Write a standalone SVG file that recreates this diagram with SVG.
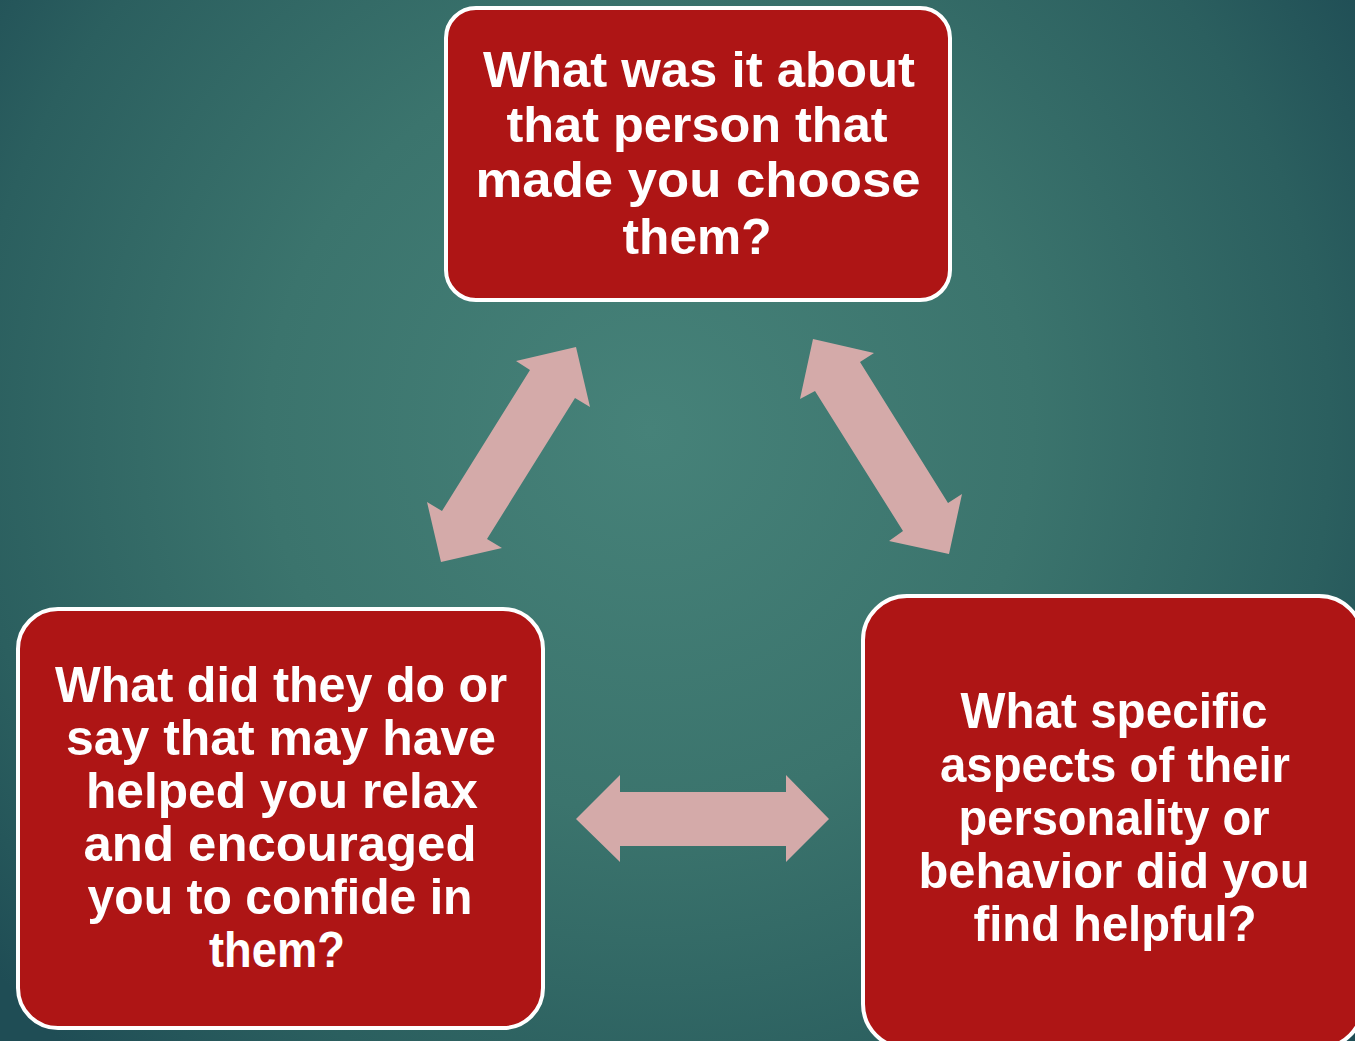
<svg xmlns="http://www.w3.org/2000/svg" width="1355" height="1041" viewBox="0 0 1355 1041">
<defs>
<radialGradient id="bg" gradientUnits="userSpaceOnUse" cx="650" cy="430" r="850">
<stop offset="0" stop-color="#468279"/>
<stop offset="0.45" stop-color="#3b746d"/>
<stop offset="0.8" stop-color="#2b5f5f"/>
<stop offset="1" stop-color="#1f4d55"/>
</radialGradient>
<style>
.box{fill:#ae1515;stroke:#ffffff;stroke-width:4}
.lbl{font-family:"Liberation Sans",Arial,sans-serif;font-weight:bold;font-size:50px;fill:#ffffff;text-anchor:middle}
.arr{fill:#d4aaa9;stroke:none}
</style>
</defs>
<rect x="0" y="0" width="1355" height="1041" fill="url(#bg)"/>
<g id="connectors">
<path class="arr" d="M576,347 L590,407 L575,398 L487,539 L502,548 L441,562 L427,502 L442,511 L530,370 L516,361 Z"/>
<path class="arr" d="M813,339 L874,353 L860,362 L948,503 L962,494 L949,554 L889,541 L903,531 L815,391 L800,399 Z"/>
<path class="arr" d="M576,819 L620,775 L620,792 L786,792 L786,775 L829,819 L786,862 L786,846 L620,846 L620,862 Z"/>
</g>
<g id="node-top">
<rect class="box" x="446" y="8" width="504" height="292" rx="30" ry="30"/>
<text class="lbl"><tspan x="699" y="87" textLength="432" lengthAdjust="spacingAndGlyphs">What was it about</tspan><tspan x="697" y="142" textLength="381" lengthAdjust="spacingAndGlyphs">that person that</tspan><tspan x="698" y="197" textLength="445" lengthAdjust="spacingAndGlyphs">made you choose</tspan><tspan x="697" y="254" textLength="149" lengthAdjust="spacingAndGlyphs">them?</tspan></text>
</g>
<g id="node-left">
<rect class="box" x="18" y="609" width="525" height="419" rx="40" ry="40"/>
<text class="lbl"><tspan x="281" y="702" textLength="452" lengthAdjust="spacingAndGlyphs">What did they do or</tspan><tspan x="281" y="755" textLength="430" lengthAdjust="spacingAndGlyphs">say that may have</tspan><tspan x="282" y="808" textLength="392" lengthAdjust="spacingAndGlyphs">helped you relax</tspan><tspan x="280" y="861" textLength="393" lengthAdjust="spacingAndGlyphs">and encouraged</tspan><tspan x="280" y="914" textLength="385" lengthAdjust="spacingAndGlyphs">you to confide in</tspan><tspan x="277" y="967" textLength="136" lengthAdjust="spacingAndGlyphs">them?</tspan></text>
</g>
<g id="node-right">
<rect class="box" x="863" y="596" width="500" height="452" rx="44" ry="44"/>
<text class="lbl"><tspan x="1114" y="728" textLength="307" lengthAdjust="spacingAndGlyphs">What specific</tspan><tspan x="1115" y="782" textLength="350" lengthAdjust="spacingAndGlyphs">aspects of their</tspan><tspan x="1114" y="835" textLength="311" lengthAdjust="spacingAndGlyphs">personality or</tspan><tspan x="1114" y="888" textLength="391" lengthAdjust="spacingAndGlyphs">behavior did you</tspan><tspan x="1115" y="941" textLength="283" lengthAdjust="spacingAndGlyphs">find helpful?</tspan></text>
</g>
</svg>
